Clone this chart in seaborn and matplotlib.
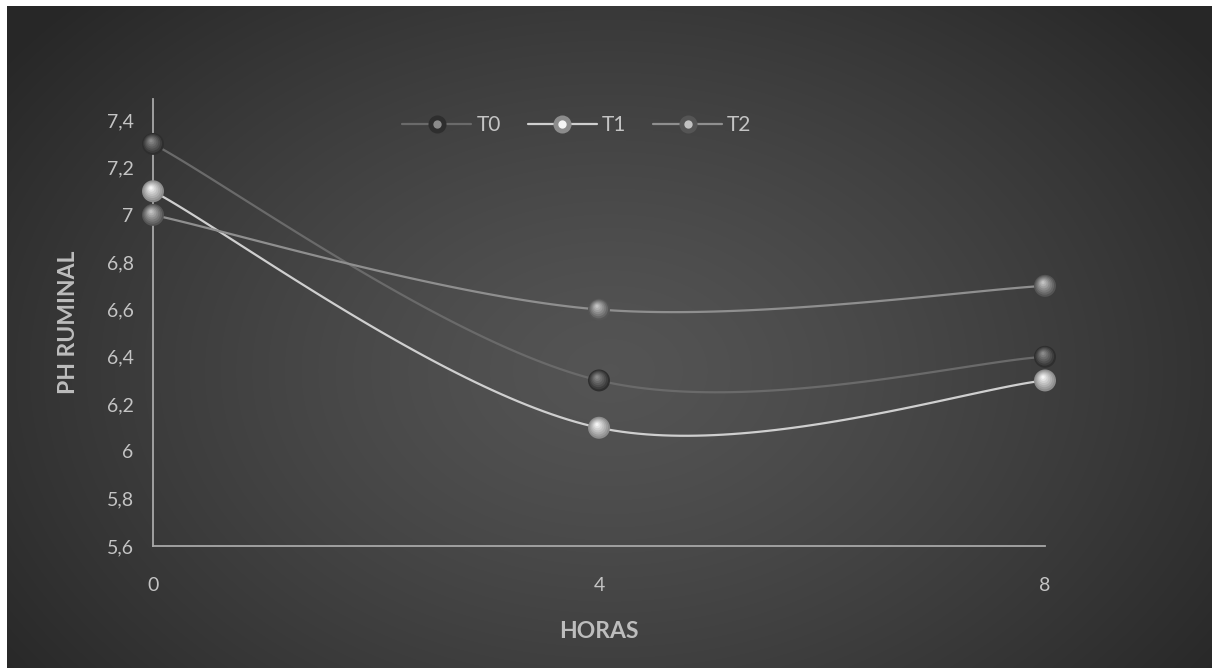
import numpy as np
import pandas as pd
import matplotlib
matplotlib.use("Agg")
import matplotlib.pyplot as plt
import matplotlib.transforms as mtransforms
from matplotlib.lines import Line2D
from matplotlib.legend_handler import HandlerTuple
import seaborn as sns

# Ruminal pH by hour and treatment
horas = [0, 4, 8]
t0 = [7.3, 6.3, 6.4]
t1 = [7.1, 6.1, 6.3]
t2 = [7.0, 6.6, 6.7]
series_names = ["T0", "T1", "T2"]
y_ticks = [5.6, 5.8, 6.0, 6.2, 6.4, 6.6, 6.8, 7.0, 7.2, 7.4]
y_tick_labels = ["5,6", "5,8", "6", "6,2", "6,4", "6,6", "6,8", "7", "7,2", "7,4"]
x_ticks = [0, 4, 8]

df = pd.DataFrame({"horas": horas * 3,
                   "ph": t0 + t1 + t2,
                   "serie": np.repeat(series_names, 3)})

# line colour, sphere dark shade, sphere light shade
styles = {
    "T0": dict(line="#6a6a6a", dark="#2e2e2e", light="#8a8a8a"),
    "T1": dict(line="#cfcfcf", dark="#8c8c8c", light="#f4f4f4"),
    "T2": dict(line="#8f8f8f", dark="#555555", light="#c2c2c2"),
}

sns.set_theme(style="white")
plt.rcParams["font.family"] = ["Lato", "DejaVu Sans"]

fig = plt.figure(figsize=(12.12, 6.68), dpi=100)
fig.patch.set_facecolor("white")

# dark radial-gradient backdrop
bg = fig.add_axes([7 / 1212, 0, 1 - 7 / 1212, 1 - 6 / 668])
bg.set_axis_off()
h, w = 400, 700
yy, xx = np.mgrid[0:h, 0:w]
cx, cy = 0.50 * w, 0.55 * h
r = np.sqrt(((xx - cx) / (0.62 * w)) ** 2 + ((yy - cy) / (0.80 * h)) ** 2)
r = np.clip(r, 0, 1)
vals = 0.33 - (0.33 - 0.155) * r ** 1.3
img = np.dstack([vals, vals, vals])
bg.imshow(img, aspect="auto", extent=[0, 1, 0, 1], interpolation="bilinear")
bg.set_xlim(0, 1)
bg.set_ylim(0, 1)

ax = fig.add_axes([153 / 1212, 1 - 546 / 668, (1045 - 153) / 1212, (546 - 99) / 668])
ax.patch.set_alpha(0)


def smooth(xs, ys, n=60):
    """Cubic Bezier smoothing through the points (spreadsheet-style)."""
    p = np.column_stack([xs, ys]).astype(float)
    ext = np.vstack([p[0], p, p[-1]])
    out = []
    t = np.linspace(0, 1, n)[:, None]
    for i in range(len(p) - 1):
        p0, p3 = p[i], p[i + 1]
        c1 = p0 + (ext[i + 2] - ext[i]) / 6.0
        c2 = p3 - (ext[i + 3] - ext[i + 1]) / 6.0
        seg = ((1 - t) ** 3) * p0 + 3 * ((1 - t) ** 2) * t * c1 + 3 * (1 - t) * t ** 2 * c2 + t ** 3 * p3
        out.append(seg)
    c = np.vstack(out)
    return c[:, 0], c[:, 1]


# smoothed lines
for name in series_names:
    sub = df[df["serie"] == name]
    sx, sy = smooth(sub["horas"].values, sub["ph"].values)
    ax.plot(sx, sy, color=styles[name]["line"], lw=1.6, zorder=2, solid_capstyle="round")

# spherical markers: stacked circles shifting toward a highlight
n_layers = 7
base_size = 250
for name in series_names:
    sub = df[df["serie"] == name]
    st = styles[name]
    dark = np.array(matplotlib.colors.to_rgb(st["dark"]))
    light = np.array(matplotlib.colors.to_rgb(st["light"]))
    for k in range(n_layers):
        f = k / (n_layers - 1)
        col = dark * (1 - f) + light * f
        size = base_size * (1 - 0.85 * f) ** 2
        tr = mtransforms.offset_copy(ax.transData, fig=fig, x=-1.4 * f, y=2.3 * f, units="points")
        sns.scatterplot(x=sub["horas"], y=sub["ph"], ax=ax, s=size, color=col,
                        edgecolor="none", linewidth=0, transform=tr, zorder=3 + k,
                        legend=False, clip_on=False)

ax.set_xlim(0, 8)
ax.set_ylim(5.6, 7.49)
ax.set_xticks(x_ticks)
ax.set_xticklabels([str(v) for v in x_ticks])
ax.set_yticks(y_ticks)
ax.set_yticklabels(y_tick_labels)
ax.tick_params(axis="both", length=0, labelsize=14, colors="#c4c4c4")
ax.tick_params(axis="x", pad=22)
ax.tick_params(axis="y", pad=14)
for s in ["top", "right"]:
    ax.spines[s].set_visible(False)
for s in ["left", "bottom"]:
    ax.spines[s].set_color("#a8a8a8")
    ax.spines[s].set_linewidth(1.3)
ax.grid(False)

ax.set_xlabel("HORAS", fontsize=16.5, fontweight="bold", color="#bdbdbd", labelpad=20)
ax.set_ylabel("PH RUMINAL", fontsize=16.5, fontweight="bold", color="#bdbdbd", labelpad=20)

# legend
handles = []
for name in series_names:
    st = styles[name]
    ln = Line2D([], [], color=st["line"], lw=1.6)
    m1 = Line2D([], [], ls="none", marker="o", markersize=13, color=st["dark"], markeredgewidth=0)
    m2 = Line2D([], [], ls="none", marker="o", markersize=6, color=st["light"], markeredgewidth=0)
    handles.append((ln, m1, m2))
leg = fig.legend(handles, series_names, handler_map={tuple: HandlerTuple(ndivide=1)},
                 loc="center", bbox_to_anchor=(577 / 1212, 1 - 125 / 668), ncol=3,
                 frameon=False, fontsize=15, handlelength=3.3, columnspacing=1.3,
                 handletextpad=0.25)
for t in leg.get_texts():
    t.set_color("#c4c4c4")

fig.savefig("out.png", dpi=100)
